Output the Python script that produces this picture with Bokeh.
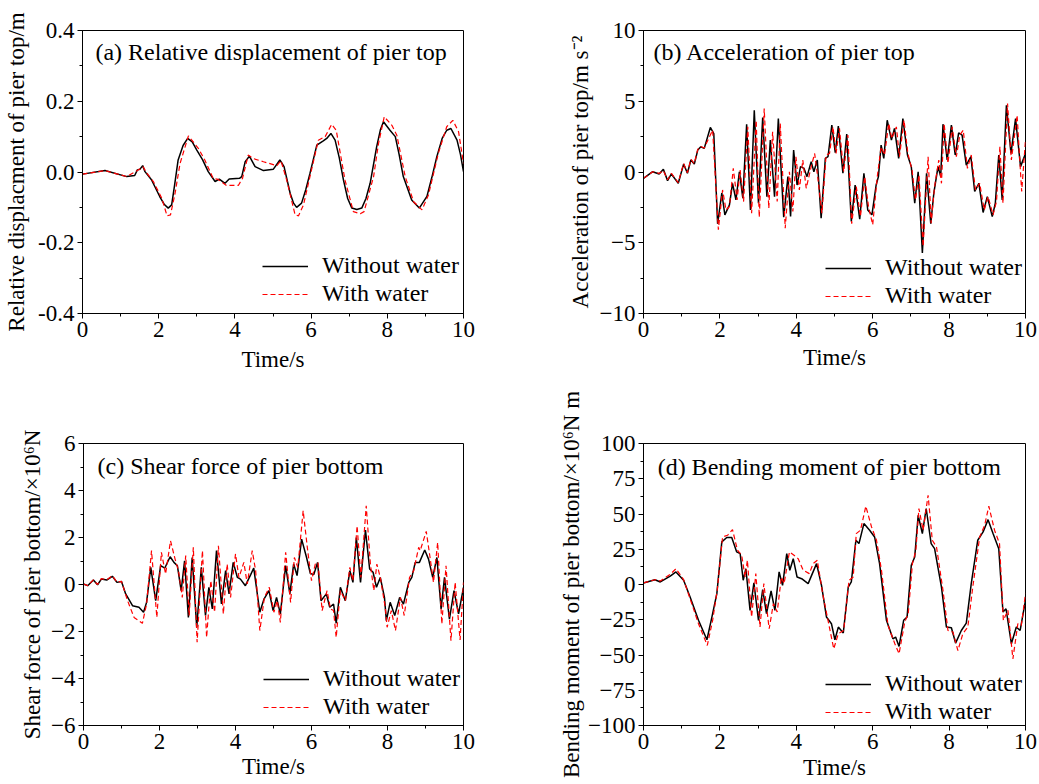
from bokeh.plotting import figure
from bokeh.layouts import column, row
from bokeh.models import Range1d, SingleIntervalTicker, NumeralTickFormatter, Label, Legend
from bokeh.embed import file_html
from bokeh.resources import INLINE

# ---------------- data ----------------
# (a) relative displacement of pier top (m)
t_a_dry = [0, 0.59, 1.16, 1.37, 1.44, 1.51, 1.58, 1.64, 1.81, 2.03, 2.15, 2.25, 2.34, 2.42, 2.51, 2.64, 2.76, 2.88, 3.0, 3.15, 3.30, 3.48, 3.59, 3.74,
           3.85, 4.12, 4.18, 4.27, 4.38, 4.53, 4.75, 5.01, 5.18, 5.29, 5.45, 5.54, 5.62, 5.75, 5.86, 5.97, 6.15, 6.32, 6.41, 6.52,
           6.63, 6.74, 6.85, 6.96, 7.07, 7.20, 7.33, 7.44, 7.55, 7.72, 7.82, 7.9, 8.07, 8.21, 8.31, 8.42, 8.64, 8.84, 9.04, 9.17,
           9.30, 9.44, 9.56, 9.67, 9.83, 9.92, 10]
v_a_dry = [-0.006, 0.004, -0.013, -0.01, 0.006, 0.008, 0.018, 0.001, -0.022, -0.07, -0.092, -0.102, -0.093, -0.035, 0.034, 0.075, 0.095,
           0.085, 0.062, 0.035, 0.001, -0.027, -0.02, -0.032, -0.02, -0.018, -0.013, 0.029, 0.045, 0.015, 0.004, 0.008, 0.034, 0.015,
           -0.06, -0.088, -0.1, -0.088, -0.05, -0.004, 0.076, 0.088, 0.095, 0.109, 0.09, 0.04, -0.023, -0.075, -0.102, -0.106, -0.102,
           -0.075, -0.032, 0.071, 0.12, 0.142, 0.118, 0.1, 0.05, -0.013, -0.079, -0.102, -0.069, -0.015, 0.043, 0.095, 0.118, 0.123,
           0.09, 0.05, 0.001]
t_a_wet = [0, 0.59, 1.16, 1.44, 1.59, 1.68, 1.86, 2.08, 2.22, 2.31, 2.43, 2.56, 2.78, 3.04, 3.21, 3.43, 3.56, 3.78, 4.09, 4.20, 4.35,
           4.48, 4.75, 5.10, 5.21, 5.36, 5.58, 5.67, 5.80, 5.97, 6.19, 6.37, 6.54, 6.66, 6.89, 7.11, 7.29, 7.39, 7.64, 7.77, 7.92,
           8.12, 8.25, 8.47, 8.69, 8.91, 9.08, 9.34, 9.56, 9.72, 9.87, 10.0]
v_a_wet = [-0.006, 0.004, -0.013, 0.004, 0.015, -0.002, -0.027, -0.074, -0.124, -0.121, -0.06, 0.024, 0.102, 0.067, 0.034, -0.018,
           -0.021, -0.038, -0.038, -0.018, 0.048, 0.038, 0.029, 0.018, 0.032, -0.023, -0.121, -0.124, -0.093, -0.013, 0.09, 0.1,
           0.135, 0.118, -0.023, -0.112, -0.118, -0.112, -0.013, 0.081, 0.156, 0.132, 0.104, -0.013, -0.084, -0.107, -0.065, 0.053,
           0.128, 0.146, 0.114, 0.024]

# (b) acceleration of pier top (m s^-2)
t_b_dry = [0.00, 0.24, 0.41, 0.52, 0.63, 0.73, 0.91, 1.05, 1.15, 1.24, 1.33, 1.42, 1.50, 1.59, 1.75, 1.84, 1.94, 2.05, 2.13, 2.25,
           2.33, 2.42, 2.51, 2.60, 2.70, 2.80, 2.90, 3.01, 3.12, 3.23, 3.32, 3.43, 3.53, 3.67, 3.78, 3.85, 3.93, 4.02, 4.11, 4.20,
           4.28, 4.39, 4.46, 4.55, 4.65, 4.76, 4.83, 4.93, 5.02, 5.10, 5.22, 5.32, 5.44, 5.54, 5.66, 5.77, 5.87, 5.98, 6.09, 6.15,
           6.22, 6.29, 6.38, 6.49, 6.57, 6.68, 6.79, 6.91, 7.01, 7.10, 7.19, 7.30, 7.41, 7.52, 7.60, 7.71, 7.78, 7.84, 7.95, 8.06,
           8.16, 8.25, 8.34, 8.45, 8.57, 8.67, 8.78, 8.89, 9.00, 9.13, 9.21, 9.30, 9.39, 9.50, 9.62, 9.74, 9.87, 10.0]
v_b_dry = [-0.45, 0.02, -0.14, 0.19, -0.61, -0.14, -0.80, 0.56, -0.09, 0.85, 0.56, 1.55, 1.78, 1.67, 3.15, 2.72, -3.66, -1.50, -3.03,
           -2.32, -0.80, -1.97, 0.02, -1.85, 3.38, -2.68, 4.37, -2.21, 3.85, -1.74, 2.25, -1.74, 3.78, -3.19, -0.33, -3.15, 1.55,
           -0.92, 0.38, 0.26, -0.33, 0.73, 0.02, 0.85, -3.26, 0.96, 1.08, 3.31, 1.36, 3.24, -0.09, 2.68, -3.50, -0.92, -3.33, -0.09,
           -2.68, -3.03, -0.92, -0.33, 1.90, 0.96, 3.66, 2.25, 3.08, 0.96, 3.78, 1.20, 0.38, -2.21, 0.02, -5.73, -0.09, -3.66, -1.50,
           0.38, -0.33, 3.38, 0.85, 3.31, 1.20, 2.77, 2.61, 0.49, 1.08, -1.38, -0.80, -2.86, -1.74, -3.15, -2.21, 1.20, -1.97, 4.72,
           1.31, 3.78, 0.38, 1.30]
t_b_wet = [0.00, 0.24, 0.41, 0.52, 0.63, 0.73, 0.91, 1.05, 1.15, 1.24, 1.33, 1.42, 1.50, 1.59, 1.81, 1.96, 2.07, 2.16, 2.25, 2.35,
           2.45, 2.53, 2.62, 2.73, 2.83, 2.95, 3.03, 3.16, 3.28, 3.38, 3.50, 3.58, 3.71, 3.82, 3.91, 3.99, 4.08, 4.17, 4.26, 4.39,
           4.48, 4.56, 4.67, 4.78, 4.87, 4.96, 5.04, 5.13, 5.24, 5.35, 5.45, 5.57, 5.68, 5.79, 5.89, 6.00, 6.12, 6.22, 6.31, 6.42,
           6.50, 6.62, 6.70, 6.82, 6.92, 7.03, 7.12, 7.21, 7.32, 7.45, 7.53, 7.62, 7.73, 7.80, 7.87, 7.97, 8.08, 8.19, 8.28, 8.37,
           8.48, 8.58, 8.69, 8.80, 8.92, 9.02, 9.15, 9.24, 9.33, 9.41, 9.53, 9.63, 9.78, 9.90, 10.0]
v_b_wet = [-0.45, 0.02, -0.10, 0.10, -0.55, -0.10, -0.75, 0.60, -0.05, 0.90, 0.60, 1.60, 1.80, 1.70, 2.96, -4.08, -1.27, -2.68,
           -2.44, 0.26, -1.97, 0.14, -2.09, 3.19, -2.91, 3.66, -3.19, 4.48, -2.56, 2.84, -2.09, 3.43, -3.97, 0.02, -2.79, 1.08,
           -1.27, 0.85, -1.15, 0.38, 1.31, -0.33, -2.91, 1.20, 1.31, 3.19, 1.31, 3.08, 0.02, 2.61, -3.66, -1.03, -3.15, -0.33, -2.44,
           -3.73, -0.33, 1.78, 1.20, 3.43, 2.37, 3.19, 1.08, 3.66, 1.31, 0.14, -1.97, -0.21, -5.26, 1.08, -3.62, -1.03, 0.85, -0.80,
           3.43, 0.61, 3.19, 1.08, 2.61, 2.96, 0.26, 1.20, -1.27, -0.80, -2.68, -1.74, -3.03, -2.09, 1.78, -2.21, 4.84, 0.85, 4.01,
           -1.38, 2.25]

# (c) shear force of pier bottom (x10^6 N)
t_c_dry = [0, 0.11, 0.26, 0.37, 0.47, 0.61, 0.76, 0.88, 1.00, 1.11, 1.29, 1.46, 1.58, 1.66, 1.77, 1.90, 2.03, 2.14, 2.28, 2.38,
           2.47, 2.57, 2.66, 2.76, 2.86, 2.98, 3.10, 3.21, 3.30, 3.39, 3.50, 3.63, 3.74, 3.83, 3.94, 4.05, 4.13, 4.26, 4.40, 4.48,
           4.55, 4.64, 4.75, 4.88, 4.99, 5.08, 5.18, 5.32, 5.43, 5.53, 5.62, 5.74, 5.87, 5.97, 6.06, 6.16, 6.25, 6.39, 6.48, 6.58,
           6.65, 6.76, 6.89, 7.01, 7.09, 7.18, 7.29, 7.42, 7.53, 7.62, 7.71, 7.81, 7.92, 7.97, 8.07, 8.19, 8.32, 8.42, 8.56, 8.64,
           8.73, 8.84, 8.98, 9.08, 9.19, 9.30, 9.41, 9.50, 9.63, 9.75, 9.87, 10.0]
v_c_dry = [0.02, -0.05, 0.19, -0.01, 0.23, 0.19, 0.35, 0.09, 0.13, -0.40, -0.90, -0.97, -1.18, -0.76, 0.73, -0.69, 0.80, 0.70, 1.18,
           0.94, 0.80, -0.26, 1.01, -1.40, 1.15, -1.82, 0.73, -1.32, -0.12, -1.04, 1.44, -0.83, 0.59, -0.40, 0.94, 0.30, 0.23, -0.05,
           0.42, 0.70, -0.12, -1.18, -0.62, -0.26, -1.11, -0.55, -1.25, 0.80, -0.40, 0.87, 0.38, 1.93, 1.15, 0.47, 0.42, 0.94, -0.69,
           -0.40, -0.97, -0.83, -1.65, -0.12, -0.69, 0.59, 0.09, 2.00, 0.09, 2.32, 0.66, 0.52, -0.12, 0.30, -0.55, -1.54, -0.76, -1.32,
           -0.55, -0.83, 0.09, 0.30, 0.94, 0.94, 1.47, 1.08, 0.30, 1.15, -1.04, 0.30, -1.47, -0.26, -1.25, -0.12]
t_c_wet = [0, 0.11, 0.26, 0.37, 0.47, 0.61, 0.76, 0.88, 1.00, 1.16, 1.33, 1.55, 1.66, 1.79, 1.93, 2.05, 2.16, 2.29, 2.41, 2.50,
           2.60, 2.69, 2.78, 2.89, 2.99, 3.13, 3.24, 3.35, 3.45, 3.55, 3.68, 3.78, 3.87, 4.00, 4.09, 4.22, 4.31, 4.44, 4.53, 4.64,
           4.76, 4.89, 5.01, 5.10, 5.18, 5.32, 5.45, 5.55, 5.64, 5.78, 5.90, 6.00, 6.10, 6.17, 6.28, 6.41, 6.50, 6.58, 6.65, 6.76,
           6.89, 7.01, 7.09, 7.20, 7.30, 7.44, 7.55, 7.64, 7.72, 7.81, 7.94, 7.99, 8.10, 8.21, 8.34, 8.44, 8.58, 8.69, 8.82, 8.86,
           9.02, 9.12, 9.21, 9.32, 9.43, 9.54, 9.67, 9.78, 9.91, 10.0]
v_c_wet = [0.02, -0.05, 0.20, 0.00, 0.25, 0.20, 0.37, 0.10, 0.13, -0.69, -1.40, -1.65, -0.83, 1.44, -1.40, 1.37, 0.45, 1.86, 1.08,
           0.59, -0.55, 1.23, -1.32, 1.58, -2.46, 1.44, -2.25, 0.16, -1.18, 1.65, -1.25, 0.87, -0.55, 1.30, 0.30, 0.94, 0.02, 1.44,
           0.59, -1.96, -0.55, -0.12, -1.18, -0.69, -1.61, 1.37, -0.76, 1.15, 0.73, 3.14, 1.44, 0.16, 0.87, 0.94, -1.11, -0.26, -1.04,
           -1.11, -2.25, -0.26, -0.69, 0.73, 0.16, 2.50, 0.30, 3.35, 0.87, -0.26, 0.87, 0.30, -0.97, -1.82, -1.11, -1.96, -0.55, -1.32,
           0.30, 0.59, 1.58, 1.44, 2.26, 1.15, 0.09, 1.79, -1.68, 0.80, -2.39, 0.09, -2.36, 0.09]

# (d) bending moment of pier bottom (x10^6 N m)
t_d_dry = [0, 0.30, 0.44, 0.70, 0.85, 1.05, 1.22, 1.44, 1.66, 1.79, 1.92, 2.05, 2.18, 2.31, 2.44, 2.53, 2.61, 2.68, 2.79, 2.89,
           3.01, 3.12, 3.22, 3.34, 3.44, 3.55, 3.64, 3.75, 3.83, 3.92, 4.02, 4.14, 4.31, 4.53, 4.66, 4.79, 4.92, 5.01, 5.10, 5.23,
           5.36, 5.44, 5.56, 5.64, 5.77, 5.92, 6.05, 6.18, 6.36, 6.53, 6.60, 6.69, 6.81, 6.90, 7.01, 7.10, 7.19, 7.30, 7.40, 7.53,
           7.62, 7.80, 7.93, 8.06, 8.17, 8.32, 8.45, 8.58, 8.75, 8.89, 9.02, 9.15, 9.30, 9.41, 9.49, 9.63, 9.76, 9.86, 10.0]
v_d_dry = [1.1, 3.4, 1.8, 6.0, 8.9, 3.0, -8.9, -25.4, -39.2, -23.1, -6.5, 30.2, 33.3, 33.3, 23.1, 21.9, 3.0, 11.2, -18.3, 1.1, -25.4,
           -3.7, -20.7, -4.6, -18.3, 8.9, -0.6, 21.9, 10.1, 18.3, 5.3, 4.1, 0.6, 14.8, -0.6, -23.1, -27.8, -39.2, -30.2, -34.4, -1.8,
           1.8, 31.4, 29.0, 43.2, 38.5, 33.7, 14.8, -25.4, -38.5, -37.3, -43.9, -25.4, -23.1, 13.6, 19.5, 49.1, 36.1, 53.9, 29.0,
           25.4, -1.8, -30.2, -30.7, -41.6, -32.6, -27.4, 0.6, 31.4, 37.3, 46.0, 36.1, 25.4, -19.5, -17.2, -42.0, -30.2, -32.6, -11.2]
t_d_wet = [0, 0.30, 0.44, 0.70, 0.85, 1.05, 1.22, 1.44, 1.67, 1.81, 1.93, 2.07, 2.20, 2.33, 2.46, 2.57, 2.66, 2.72, 2.83, 2.94,
           3.05, 3.15, 3.29, 3.40, 3.50, 3.61, 3.68, 3.82, 3.94, 4.05, 4.18, 4.34, 4.44, 4.55, 4.69, 4.83, 4.98, 5.10, 5.24, 5.38,
           5.49, 5.57, 5.68, 5.82, 5.97, 6.10, 6.23, 6.40, 6.58, 6.69, 6.84, 6.93, 7.04, 7.13, 7.21, 7.32, 7.45, 7.56, 7.67, 7.84,
           7.97, 8.10, 8.23, 8.36, 8.49, 8.62, 8.80, 8.93, 9.04, 9.19, 9.32, 9.42, 9.54, 9.67, 9.80, 9.89, 10.0]
v_d_wet = [1.1, 3.4, 2.5, 7.2, 11.2, 3.4, -10.1, -27.8, -43.2, -25.4, -4.1, 33.7, 34.9, 38.9, 24.3, 20.7, 5.3, 17.2, -23.1, 7.7,
           -30.2, 0.6, -31.4, -13.6, -19.5, 5.3, 0.6, 23.1, 20.7, 18.3, 10.1, 7.7, 14.8, 17.2, -6.5, -25.4, -45.6, -34.9, -32.6, 3.0,
           5.3, 36.1, 38.5, 55.5, 40.8, 31.4, 10.1, -29.0, -42.0, -49.1, -26.6, -20.7, 14.8, 24.3, 53.9, 38.5, 63.3, 31.4, 26.6,
           -4.1, -32.6, -33.7, -46.8, -34.9, -30.2, -1.8, 33.7, 42.0, 55.5, 38.5, 29.0, -25.4, -18.3, -52.7, -27.8, -29.0, -6.5]

series_names = ["Without water", "With water"]

FONT = "Liberation Serif"
FS = "24px"
TFS = "23px"


def make_panel(width, height, borders, y_range, y_interval, y_fmt, ylabel, title_text, title_pos,
               dry, wet, legend_loc, ylabel_standoff, xlabel_standoff):
    bl, br, bt, bb = borders
    p = figure(width=width, height=height, output_backend="svg", toolbar_location=None,
               x_range=Range1d(0, 10), y_range=Range1d(*y_range),
               min_border_left=bl, min_border_right=br, min_border_top=bt, min_border_bottom=bb)
    p.grid.visible = False
    p.outline_line_color = "black"
    p.outline_line_width = 1
    p.background_fill_color = "white"
    p.border_fill_color = "white"

    r1 = p.line(dry[0], dry[1], line_color="black", line_width=1.5)
    r2 = p.line(wet[0], wet[1], line_color="#ff0000", line_width=1.2, line_dash="5 3")

    p.xaxis.ticker = SingleIntervalTicker(interval=2, num_minor_ticks=2)
    p.yaxis.ticker = SingleIntervalTicker(interval=y_interval, num_minor_ticks=2)
    if y_fmt:
        p.yaxis.formatter = NumeralTickFormatter(format=y_fmt)
    for ax in (p.xaxis[0], p.yaxis[0]):
        ax.axis_line_color = "black"
        ax.major_tick_line_color = "black"
        ax.minor_tick_line_color = "black"
        ax.major_tick_out = 5
        ax.major_tick_in = 0
        ax.minor_tick_out = 3
        ax.minor_tick_in = 0
        ax.major_label_text_font = FONT
        ax.major_label_text_font_size = TFS
        ax.major_label_text_color = "black"
        ax.axis_label_text_font = FONT
        ax.axis_label_text_font_size = TFS
        ax.axis_label_text_font_style = "normal"
        ax.axis_label_text_color = "black"
    p.xaxis.axis_label = "Time/s"
    p.xaxis.major_label_standoff = 3
    p.xaxis.axis_label_standoff = xlabel_standoff
    p.yaxis.axis_label = ylabel
    p.yaxis.major_label_standoff = 3
    p.yaxis.axis_label_standoff = ylabel_standoff

    p.add_layout(Label(x=title_pos[0], y=title_pos[1], text=title_text, text_font=FONT,
                       text_font_size=FS, text_baseline="middle", text_color="black"))

    legend = Legend(items=[(series_names[0], [r1]), (series_names[1], [r2])], location=legend_loc)
    legend.border_line_alpha = 0
    legend.background_fill_alpha = 0
    legend.label_text_font = FONT
    legend.label_text_font_size = FS
    legend.label_text_color = "black"
    legend.glyph_width = 46
    legend.glyph_height = 24
    legend.label_height = 24
    legend.label_standoff = 14
    legend.spacing = 1
    legend.padding = 0
    legend.margin = 0
    p.add_layout(legend)
    return p


pa = make_panel(520, 392, (82, 57, 30, 79), (-0.4, 0.4), 0.2, "0.0",
                "Relative displacment of pier top/m", "(a) Relative displacement of pier top", (0.34, 0.34),
                (t_a_dry, v_a_dry), (t_a_wet, v_a_wet), (180, 6), 6, 7)
pb = make_panel(519, 392, (123, 14, 30, 79), (-10, 10), 5, None,
                "Acceleration of pier top/m s\u207b\u00b2", "(b) Acceleration of pier top", (0.26, 8.5),
                (t_b_dry, v_b_dry), (t_b_wet, v_b_wet), (182, 4), 4, 5)
pc = make_panel(520, 392, (83, 57, 51, 59), (-6, 6), 2, None,
                "Shear force of pier bottom/\u00d710\u2076N", "(c) Shear force of pier bottom", (0.37, 5.06),
                (t_c_dry, v_c_dry), (t_c_wet, v_c_wet), (180, 5), 3, 2)
pd_ = make_panel(519, 392, (123, 14, 51, 59), (-100, 100), 25, None,
                 "Bending moment of pier bottom/\u00d710\u2076N m", "(d) Bending moment of pier bottom", (0.37, 83),
                 (t_d_dry, v_d_dry), (t_d_wet, v_d_wet), (182, 0), 1, 3)

layout = column(row(pa, pb, spacing=0), row(pc, pd_, spacing=0), spacing=0)
open("out.html", "w").write(file_html(layout, INLINE))
